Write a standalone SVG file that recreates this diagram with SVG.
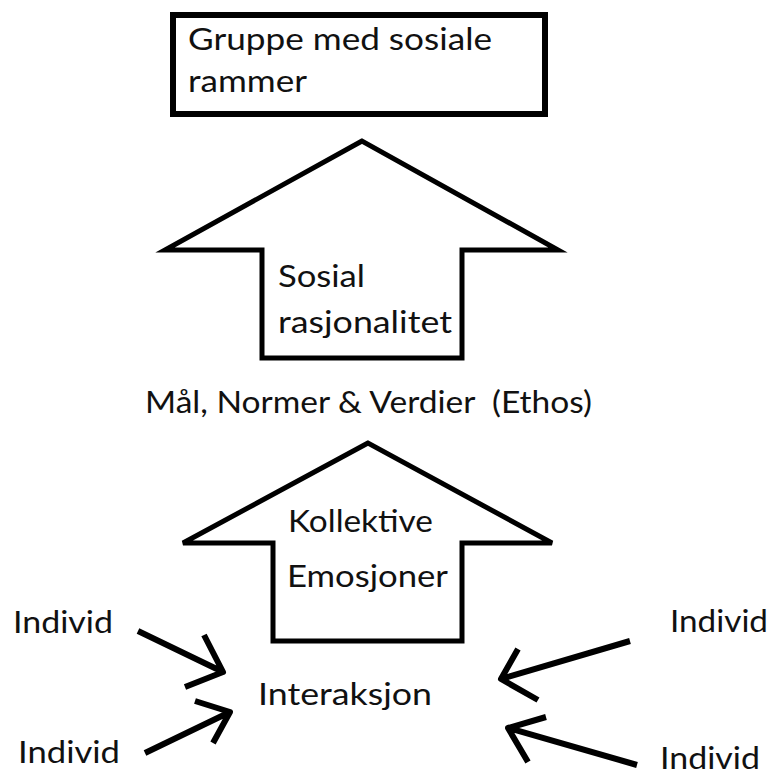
<svg xmlns="http://www.w3.org/2000/svg" width="774" height="776" viewBox="0 0 774 776">
<style>
.t{font-family:Lato,"Open Sans","Liberation Sans",sans-serif;font-size:30px;fill:#111;white-space:pre}
.shape{fill:#fff;stroke:#000;stroke-width:5;stroke-linejoin:miter}
.conn{fill:none;stroke:#000;stroke-width:6;stroke-linejoin:round;stroke-linecap:butt}
</style>
<rect width="774" height="776" fill="#fff"/>
<g id="gruppe">
<rect x="173" y="15" width="372" height="99" fill="#fff" stroke="#000" stroke-width="6"/>
<text class="t" x="188" y="50" textLength="304" lengthAdjust="spacingAndGlyphs">Gruppe med sosiale</text>
<text class="t" x="188" y="92" textLength="119" lengthAdjust="spacingAndGlyphs">rammer</text>
</g>
<g id="sosial-rasjonalitet">
<polygon class="shape" points="362,141 165,250 262,250 262,358 462,358 462,250 558,250"/>
<text class="t" x="278" y="287" textLength="87" lengthAdjust="spacingAndGlyphs">Sosial</text>
<text class="t" x="278" y="333" textLength="174" lengthAdjust="spacingAndGlyphs">rasjonalitet</text>
</g>
<g id="ethos">
<text class="t" x="145" y="413" textLength="447" lengthAdjust="spacingAndGlyphs" xml:space="preserve">Mål, Normer &amp; Verdier  (Ethos)</text>
</g>
<g id="kollektive-emosjoner">
<polygon class="shape" points="368,443 183,543 273,543 273,641 462,641 462,543 552,543"/>
<text class="t" x="288" y="532" textLength="145" lengthAdjust="spacingAndGlyphs">Kollektive</text>
<text class="t" x="287" y="587" textLength="161" lengthAdjust="spacingAndGlyphs">Emosjoner</text>
</g>
<g id="interaksjon">
<text class="t" x="258" y="705" textLength="174" lengthAdjust="spacingAndGlyphs">Interaksjon</text>
</g>
<g id="individ-1">
<text class="t" x="13" y="633" textLength="100" lengthAdjust="spacingAndGlyphs">Individ</text>
</g>
<g id="individ-2">
<text class="t" x="18" y="763" textLength="102" lengthAdjust="spacingAndGlyphs">Individ</text>
</g>
<g id="individ-3">
<text class="t" x="670" y="632" textLength="98" lengthAdjust="spacingAndGlyphs">Individ</text>
</g>
<g id="individ-4">
<text class="t" x="660" y="769" textLength="100" lengthAdjust="spacingAndGlyphs">Individ</text>
</g>
<g id="connectors">
<path class="conn" d="M138,631 L223,672 M204,635 L223,672 L185,687"/>
<path class="conn" d="M145,753 L230,712 M195,701 L230,712 L213,743"/>
<path class="conn" d="M630,641 L501,679 M518,649 L501,679 L538,700"/>
<path class="conn" d="M637,765 L508,728 M546,717 L508,728 L528,762"/>
</g>
</svg>
